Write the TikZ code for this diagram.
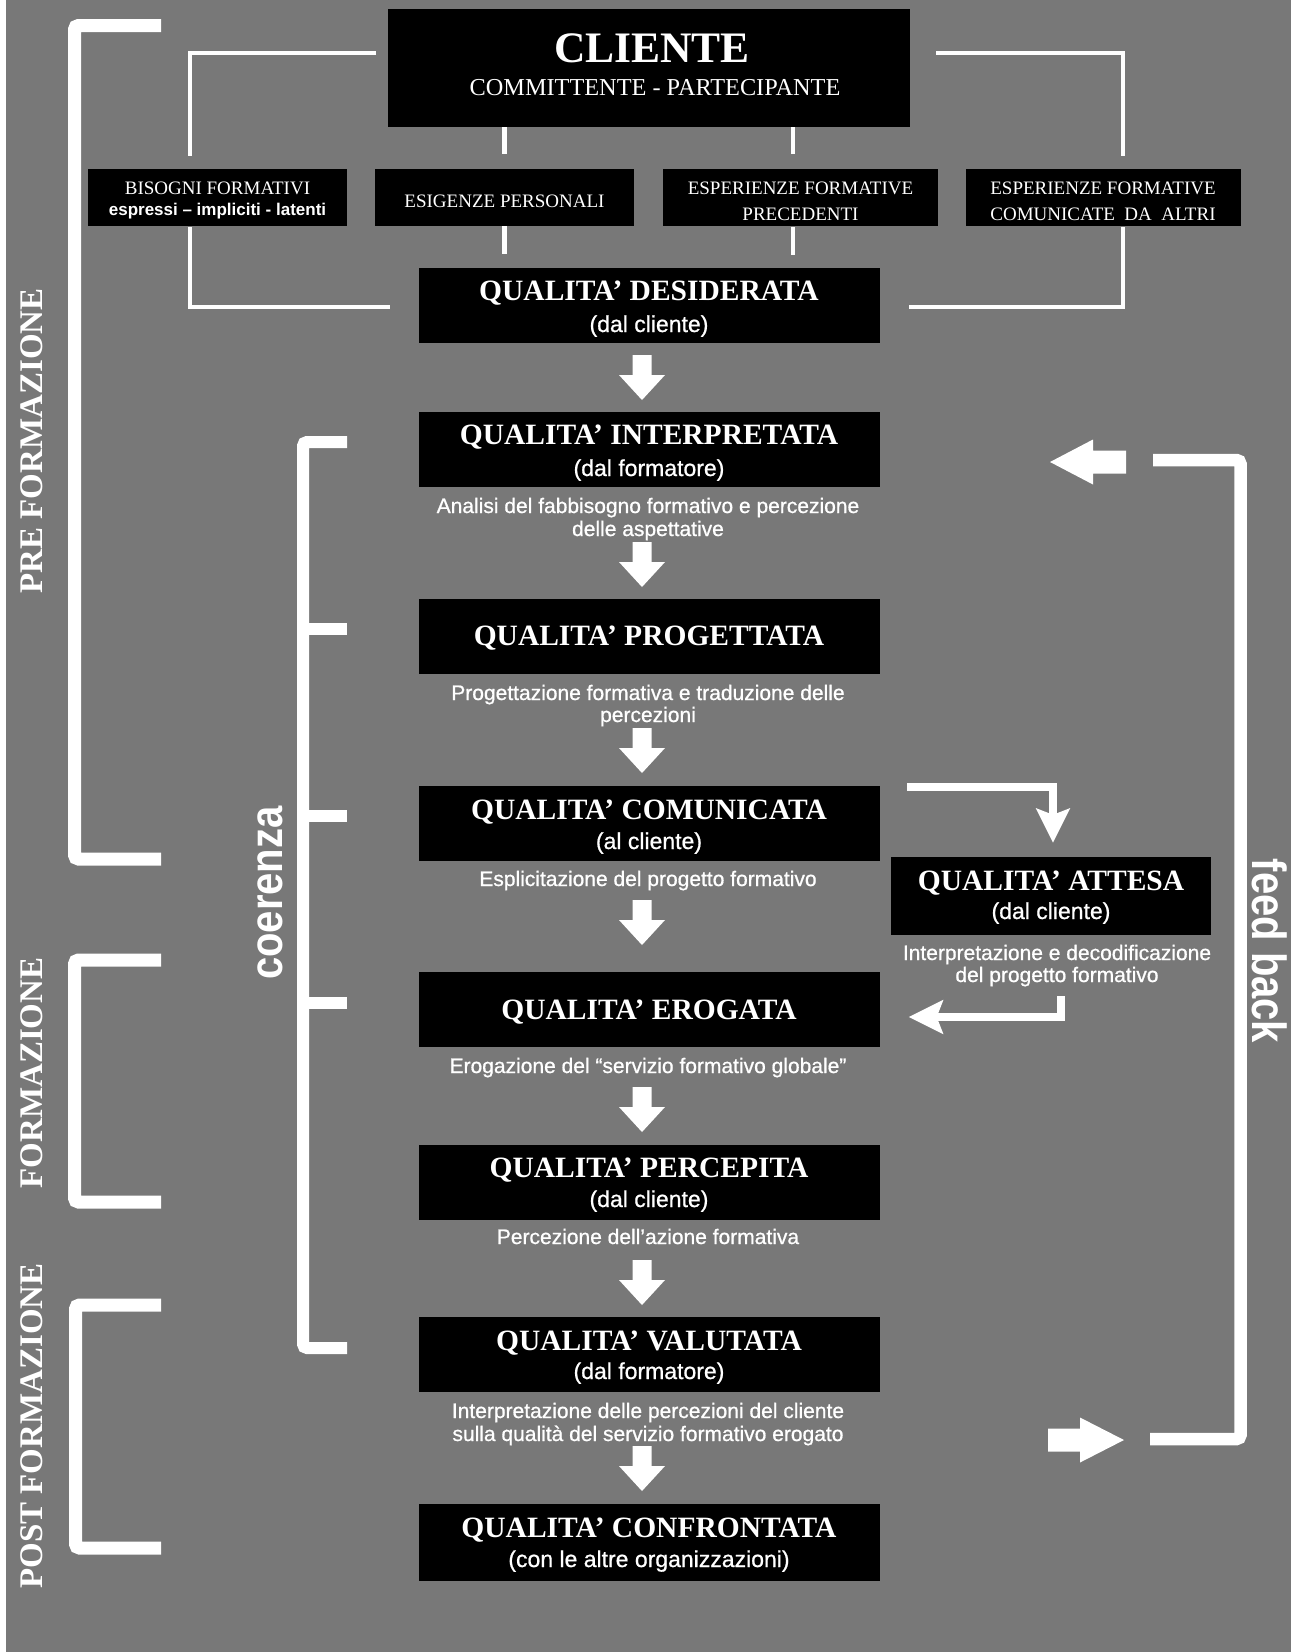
\documentclass[tikz,border=0pt]{standalone}
\usepackage{fontspec}
\setmainfont{Liberation Serif}
\setsansfont{Liberation Sans}
\newfontfamily\descfont{Liberation Sans}[FakeBold=0.8]
\usetikzlibrary{arrows.meta,calc}
\definecolor{bg}{RGB}{120,120,120}
\tikzset{
  qbox/.style={fill=black, draw=none, minimum width=461pt, minimum height=75pt, inner sep=0pt},
  sbox/.style={fill=black, draw=none, minimum height=57pt, inner sep=0pt},
  ttl/.style={text=white, font=\bfseries\fontsize{29.5}{31}\selectfont, anchor=base, inner sep=0pt},
  subt/.style={text=white, font=\descfont\fontsize{23}{25}\selectfont, anchor=base, inner sep=0pt},
  desc/.style={text=white, font=\descfont\fontsize{21}{23}\selectfont, anchor=base, inner sep=0pt},
  stxt/.style={text=white, font=\fontsize{19}{21}\selectfont, anchor=base, inner sep=0pt},
  conn/.style={draw=white, line width=4.5pt},
  flowarr/.style={draw=white, line width=8.5pt, -{Stealth[length=34pt,width=33pt,inset=6pt]}},
  brk/.style={draw=white, line width=13pt, rounded corners=4pt},
  side/.style={text=white, font=\bfseries\fontsize{33}{35}\selectfont, rotate=90, inner sep=0pt},
  big/.style={text=white, font=\sffamily\bfseries\fontsize{40}{42}\selectfont, inner sep=0pt},
  darr/.pic={\fill[white] (-9.5,0) -- (9.5,0) -- (9.5,20) -- (23,20) -- (0,45) -- (-23,20) -- (-9.5,20) -- cycle;},
  larr/.pic={\fill[white] (0,0) -- (43,-22.5) -- (43,-11.5) -- (76,-11.5) -- (76,11.5) -- (43,11.5) -- (43,22.5) -- cycle;},
  rarr/.pic={\fill[white] (0,0) -- (-44,-22.5) -- (-44,-11.5) -- (-76,-11.5) -- (-76,11.5) -- (-44,11.5) -- (-44,22.5) -- cycle;}
}
\begin{document}
\begin{tikzpicture}[x=1pt,y=-1pt]
\useasboundingbox (0,0) rectangle (1296,1652);
\fill[white] (0,0) rectangle (1296,1652);
\fill[bg] (6,0) rectangle (1291,1652);

% CLIENTE
\node[fill=black, minimum width=522pt, minimum height=118pt, inner sep=0pt] (cliente) at (649,68) {};
\node[text=white, font=\bfseries\fontsize{43.5}{45}\selectfont, anchor=base, inner sep=0pt] (clienteT) at (652,62) {CLIENTE};
\node[text=white, font=\fontsize{24.3}{26}\selectfont, anchor=base, inner sep=0pt] (clienteS) at (655,95) {COMMITTENTE - PARTECIPANTE};

% small boxes
\node[sbox, minimum width=259pt] (bis) at (217.5,197.5) {};
\node[stxt] (bisT) at (217.5,194) {BISOGNI FORMATIVI};
\node[text=white, font=\sffamily\bfseries\fontsize{17}{19}\selectfont, anchor=base, inner sep=0pt] (bisS) at (217.5,215) {espressi – impliciti - latenti};
\node[sbox, minimum width=259pt] (esig) at (504.5,197.5) {};
\node[stxt] (esigT) at (504.5,207) {ESIGENZE PERSONALI};
\node[sbox, minimum width=275pt] (prec) at (800.5,197.5) {};
\node[stxt] (precT) at (800.5,194) {ESPERIENZE FORMATIVE};
\node[stxt] (precS) at (800.5,220) {PRECEDENTI};
\node[sbox, minimum width=275pt] (altri) at (1103,197.5) {};
\node[stxt] (altriT) at (1103,194) {ESPERIENZE FORMATIVE};
\node[stxt] (altriS) at (1103,220) {COMUNICATE\ \ DA\ \ ALTRI};

% QUALITA' DESIDERATA
\node[qbox] (desid) at (649.5,305) {};
\node[ttl] (desidT) at (649,300) {QUALITA’ DESIDERATA};
\node[subt] (desidS) at (649,332) {(dal cliente)};

% connectors top section
\coordinate (cL) at (376,53);
\coordinate (bL) at (190,156);
\coordinate (cR) at (936,53);
\coordinate (bR) at (1123,156);
\draw[conn] (cL) -| (bL);
\draw[conn] (cR) -| (bR);
\draw[conn] (esig.north |- cliente.south) -- ($(esig.north)+(0,-15)$);
\coordinate (pA) at (793,127);
\coordinate (pB) at (793,154);
\draw[conn] (pA) -- (pB);
\coordinate (bL2) at (190,227);
\coordinate (dL) at (390,307);
\draw[conn] (bL2) |- (dL);
\coordinate (bR2) at (1123,227);
\coordinate (dR) at (909,307);
\draw[conn] (bR2) |- (dR);
\draw[conn] (esig.south) -- ($(esig.south)+(0,28)$);
\coordinate (pC) at (793,227);
\coordinate (pD) at (793,255);
\draw[conn] (pC) -- (pD);

% main column
\pic at (642,355) {darr};

\node[qbox] (interp) at (649.5,449) {};
\node[ttl] (interpT) at (649,444) {QUALITA’ INTERPRETATA};
\node[subt] (interpS) at (649,476) {(dal formatore)};
\node[desc] (interpD1) at (648,513) {Analisi del fabbisogno formativo e percezione};
\node[desc] (interpD2) at (648,536) {delle aspettative};
\pic at (642,542) {darr};

\node[qbox] (prog) at (649.5,636) {};
\node[ttl] (progT) at (649,645) {QUALITA’ PROGETTATA};
\node[desc] (progD1) at (648,700) {Progettazione formativa e traduzione delle};
\node[desc] (progD2) at (648,722) {percezioni};
\pic at (642,728) {darr};

\node[qbox] (comun) at (649.5,823.5) {};
\node[ttl] (comunT) at (649,819) {QUALITA’ COMUNICATA};
\node[subt] (comunS) at (649,849) {(al cliente)};
\node[desc] (comunD) at (648,886) {Esplicitazione del progetto formativo};
\pic at (642,900) {darr};

\node[qbox] (erog) at (649.5,1009.5) {};
\node[ttl] (erogT) at (649,1019) {QUALITA’ EROGATA};
\node[desc] (erogD) at (648,1073) {Erogazione del “servizio formativo globale”};
\pic at (642,1087) {darr};

\node[qbox] (perc) at (649.5,1182) {};
\node[ttl] (percT) at (649,1177) {QUALITA’ PERCEPITA};
\node[subt] (percS) at (649,1207) {(dal cliente)};
\node[desc] (percD) at (648,1244) {Percezione dell’azione formativa};
\pic at (642,1260) {darr};

\node[qbox] (valut) at (649.5,1354.5) {};
\node[ttl] (valutT) at (649,1350) {QUALITA’ VALUTATA};
\node[subt] (valutS) at (649,1379) {(dal formatore)};
\node[desc] (valutD1) at (648,1418) {Interpretazione delle percezioni del cliente};
\node[desc] (valutD2) at (648,1441) {sulla qualità del servizio formativo erogato};
\pic at (642,1446) {darr};

\node[qbox, minimum height=77pt] (confr) at (649.5,1542.5) {};
\node[ttl] (confrT) at (649,1537) {QUALITA’ CONFRONTATA};
\node[subt] (confrS) at (649,1567) {(con le altre organizzazioni)};

% QUALITA' ATTESA
\node[fill=black, minimum width=320pt, minimum height=78pt, inner sep=0pt] (attesa) at (1051,896) {};
\node[ttl] (attesaT) at (1051,890) {QUALITA’ ATTESA};
\node[subt] (attesaS) at (1051,919) {(dal cliente)};
\node[desc] (attesaD1) at (1057,960) {Interpretazione e decodificazione};
\node[desc] (attesaD2) at (1057,982) {del progetto formativo};
\draw[flowarr] ($(comun.east)+(27,-36.5)$) -| ($(attesa.north)+(2,-14)$);
\draw[flowarr] ($(attesa.south)+(10,61)$) |- ($(erog.east)+(28.5,7.5)$);

% left brackets
\draw[brk] (161,25.5) -- (74.5,25.5) -- (74.5,859) -- (161,859);
\draw[brk] (161,960) -- (74.5,960) -- (74.5,1202) -- (161,1202);
\draw[brk] (161,1305) -- (75.5,1305) -- (75.5,1548) -- (161,1548);
\node[side] (pre) at (31.5,441) {PRE FORMAZIONE};
\node[side] (form) at (31.5,1073) {FORMAZIONE};
\node[side] (post) at (31.5,1426) {POST FORMAZIONE};

% coerenza bracket
\draw[brk, line width=12pt] (347,442) -- (303,442) -- (303,1348) -- (347,1348);
\draw[white, line width=12pt] (303,629) -- (347,629);
\draw[white, line width=12pt] (303,816) -- (347,816);
\draw[white, line width=12pt] (303,1003) -- (347,1003);
\node[big, rotate=90] (coer) at (270,893) {\scalebox{1}[1.15]{coerenza}};

% feed back
\draw[brk, line width=12.5pt] (1153,460) -- (1240.5,460) -- (1240.5,1439) -- (1150,1439);
\pic at (1050,462) {larr};
\pic at (1124,1440) {rarr};
\node[big, rotate=-90] (fb) at (1270,951) {\scalebox{1}[1.2]{feed back}};
\end{tikzpicture}
\end{document}
